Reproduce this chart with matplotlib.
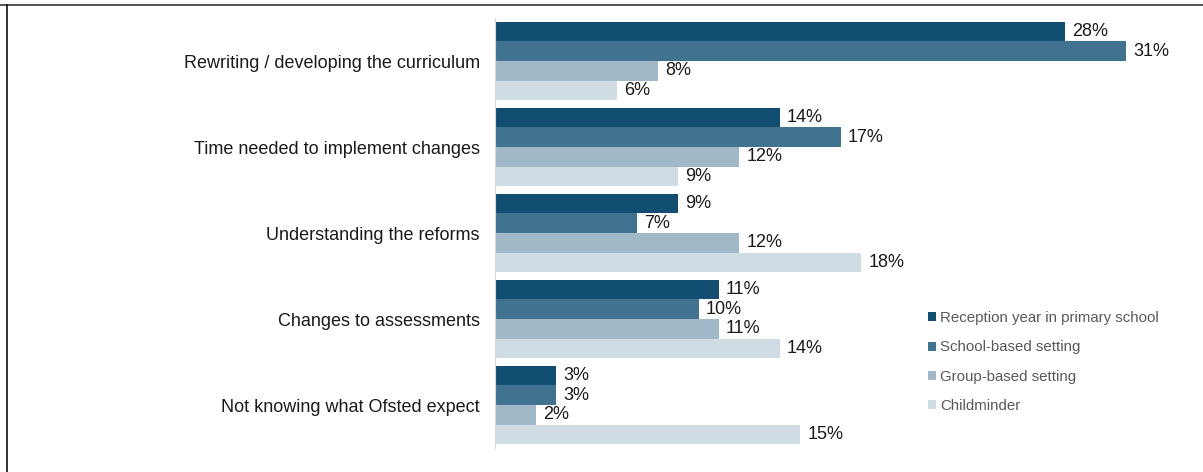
import matplotlib.pyplot as plt
from matplotlib.lines import Line2D
import numpy as np

plt.rcParams["font.family"] = ["Liberation Sans", "DejaVu Sans"]

categories = [
    "Rewriting / developing the curriculum",
    "Time needed to implement changes",
    "Understanding the reforms",
    "Changes to assessments",
    "Not knowing what Ofsted expect",
]
series = [
    "Reception year in primary school",
    "School-based setting",
    "Group-based setting",
    "Childminder",
]
reception = [28, 14, 9, 11, 3]
school = [31, 17, 7, 10, 3]
group = [8, 12, 12, 11, 2]
childminder = [6, 9, 18, 14, 15]
values = [reception, school, group, childminder]
colors = ["#124E72", "#41728F", "#A1B8C8", "#D0DCE4"]

W, H = 1203, 472
fig = plt.figure(figsize=(W / 100, H / 100), dpi=100)
ax = fig.add_axes([495 / W, (H - 448) / H, 692 / W, 430 / H])

bar_h = 0.227
y = np.arange(len(categories))
for i, (vals, col, name) in enumerate(zip(values, colors, series)):
    pos = y - 1.5 * bar_h + i * bar_h
    ax.barh(pos, vals, height=bar_h, color=col, label=name)
    for p, v in zip(pos, vals):
        ax.text(v + 0.35, p, f"{v}%", va="center", ha="left", fontsize=13,
                color="#1a1a1a")

ax.set_xlim(0, 34)
ax.set_ylim(len(categories) - 0.5, -0.5)
ax.set_yticks(y)
ax.set_yticklabels(categories, fontsize=13, color="#1a1a1a")
ax.tick_params(axis="y", length=0, pad=11)
ax.set_xticks([])
for s in ["top", "right", "bottom"]:
    ax.spines[s].set_visible(False)
ax.spines["left"].set_color("#d9d9d9")
ax.spines["left"].set_linewidth(0.8)

ax.legend(loc="center left", bbox_to_anchor=(419 / 692, 0.20), frameon=False,
          fontsize=10.8, handlelength=0.55, handleheight=0.55, handletextpad=0.3,
          labelspacing=1.02, labelcolor="#595959")

fig.add_artist(Line2D([0, 1], [(H - 5) / H, (H - 5) / H], color="#333333",
                      linewidth=1.2, transform=fig.transFigure))
fig.add_artist(Line2D([6.5 / W, 6.5 / W], [0, (H - 5) / H], color="#111111",
                      linewidth=1.2, transform=fig.transFigure))

fig.savefig("out.png", dpi=100)
